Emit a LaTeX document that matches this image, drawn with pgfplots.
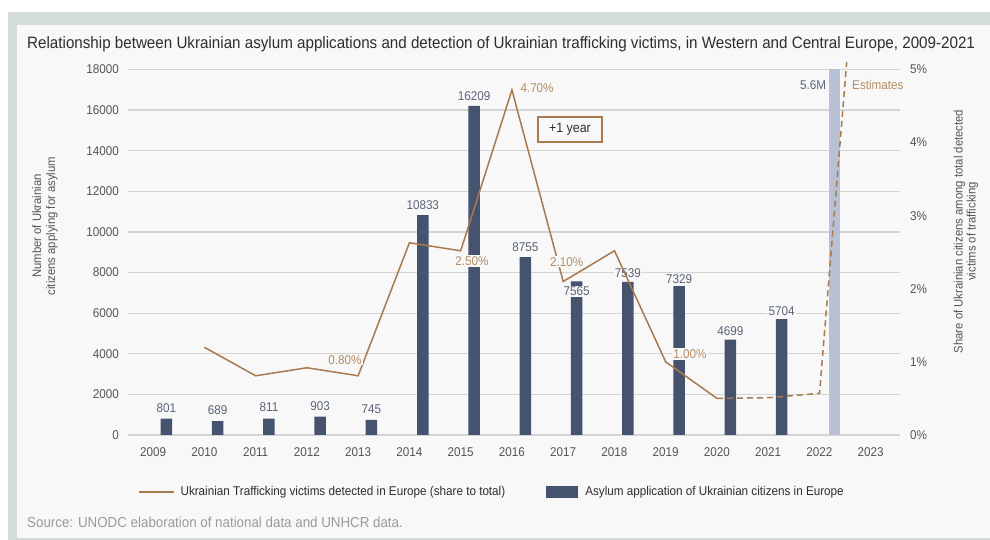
\documentclass[border=0pt]{standalone}
\usepackage{fontspec}
\setmainfont{Liberation Sans}[FakeStretch=0.92]
\usepackage{pgfplots}
\pgfplotsset{compat=1.18}
\definecolor{framegray}{HTML}{D3DCD8}
\definecolor{panel}{HTML}{F8F8F8}
\definecolor{gridgray}{HTML}{D4D4D4}
\definecolor{barblue}{HTML}{45536E}
\definecolor{lightbar}{HTML}{B8C0D4}
\definecolor{linebrown}{HTML}{A77A50}
\definecolor{pcttext}{HTML}{B48C64}
\definecolor{labelblue}{HTML}{5A6478}
\definecolor{ticktext}{HTML}{555555}
\definecolor{titletext}{HTML}{2E2E2E}
\definecolor{sourcegray}{HTML}{9A9A9A}
\newcommand{\tickfont}{\fontsize{12.7}{15}\selectfont}
\begin{document}
\begin{tikzpicture}[x=1pt,y=1pt]
\fill[white] (0,0) rectangle (990,540);
\fill[framegray] (8,0) rectangle (990,528);
\fill[panel] (17,1.5) rectangle (990,515);
\node[anchor=base west, text=titletext, inner sep=0pt] at (27,491) {\fontsize{16.5}{19}\selectfont Relationship between Ukrainian asylum applications and detection of Ukrainian trafficking victims, in Western and Central Europe, 2009-2021};

\begin{axis}[at={(128pt,105pt)}, anchor=south west, scale only axis,
  width=772pt, height=365.5pt,
  xmin=2008.51, xmax=2023.57, ymin=0, ymax=18000,
  axis line style={draw=none}, major tick style={draw=none},
  ymajorgrids, grid style={draw=gridgray, line width=1.3pt},
  xtick={2009,...,2023}, ytick={0,2000,...,18000},
  scaled y ticks=false,
  /pgf/number format/1000 sep={}, /pgf/number format/assume math mode=true,
  tick label style={font=\tickfont, text=ticktext},
  xticklabel style={anchor=base, yshift=-21.5pt, inner sep=0pt},
  yticklabel style={anchor=east, xshift=-9pt, inner sep=0pt},
  clip=false,
  legend style={at={(axis description cs:0.0135,-0.156)}, anchor=west, draw=none, fill=none,
    font=\tickfont, text=titletext, legend columns=2, inner sep=0pt,
    /tikz/every even column/.append style={column sep=39pt}},
  legend cell align=left,
]
\addlegendimage{legend image code/.code={\draw[linebrown, line width=1.5pt] (0pt,0pt) -- (35pt,0pt); \path (39pt,0pt);}}
\addlegendentry{Ukrainian Trafficking victims detected in Europe (share to total)}
\addplot[ybar, bar width=11.5pt, fill=barblue, draw=none,
  legend image code/.code={\fill[barblue] (0pt,-6pt) rectangle (32pt,6pt); \path (37pt,0pt);}]
  coordinates {(2009.26,801) (2010.26,689) (2011.26,811) (2012.26,903) (2013.26,745)
  (2014.26,10833) (2015.26,16209) (2016.26,8755) (2017.26,7565) (2018.26,7539)
  (2019.26,7329) (2020.26,4699) (2021.26,5704)};
\addlegendentry{Asylum application of Ukrainian citizens in Europe}
\addplot[ybar, bar width=11.5pt, fill=lightbar, draw=none, forget plot]
  coordinates {(2022.29,18000)};
\begin{scope}[every node/.style={font=\tickfont, text=labelblue, fill=panel, inner sep=1.2pt}]
\node[yshift=11pt] at (axis cs:2009.26,801) {801};
\node[yshift=11pt] at (axis cs:2010.26,689) {689};
\node[yshift=11pt] at (axis cs:2011.26,811) {811};
\node[yshift=11pt] at (axis cs:2012.26,903) {903};
\node[yshift=11pt] at (axis cs:2013.26,745) {745};
\node[yshift=10pt] at (axis cs:2014.26,10833) {10833};
\node[yshift=10pt] at (axis cs:2015.26,16209) {16209};
\node[yshift=10pt] at (axis cs:2016.26,8755) {8755};
\node[yshift=-10pt] at (axis cs:2017.26,7565) {7565};
\node[yshift=9pt] at (axis cs:2018.26,7539) {7539};
\node[yshift=7pt] at (axis cs:2019.26,7329) {7329};
\node[yshift=8pt] at (axis cs:2020.26,4699) {4699};
\node[yshift=8pt] at (axis cs:2021.26,5704) {5704};
\end{scope}
\end{axis}

\begin{axis}[at={(128pt,105pt)}, anchor=south west, scale only axis,
  width=772pt, height=365.5pt,
  xmin=2008.51, xmax=2023.57, ymin=0, ymax=5,
  axis line style={draw=none}, major tick style={draw=none},
  xtick=\empty, ytick={0,...,5}, yticklabel pos=right,
  /pgf/number format/assume math mode=true,
  yticklabel={\pgfmathprintnumber{\tick}\%},
  yticklabel style={anchor=west, xshift=10pt, inner sep=0pt, font=\tickfont, text=ticktext},
  clip=false]
\addplot[linebrown, line width=1.5pt] coordinates {(2010,1.20) (2011,0.81) (2012,0.92) (2013,0.81)
  (2014,2.63) (2015,2.52) (2016,4.72) (2017,2.10) (2018,2.52) (2019,1.00) (2020,0.50)};
\addplot[linebrown, line width=1.5pt, dash pattern=on 6pt off 4pt] coordinates {(2020,0.50) (2021,0.51) (2022,0.57) (2022.53,5.10)};
\begin{scope}[every node/.style={font=\tickfont, text=pcttext, fill=panel, inner sep=1.2pt}]
\node at (axis cs:2012.74,1.03) {0.80\%};
\node at (axis cs:2015.22,2.38) {2.50\%};
\node at (axis cs:2016.49,4.75) {4.70\%};
\node at (axis cs:2017.07,2.37) {2.10\%};
\node at (axis cs:2019.47,1.11) {1.00\%};
\end{scope}
\end{axis}

\node[font=\tickfont, text=labelblue] at (813,455) {5.6M};
\node[font=\tickfont, text=pcttext, anchor=west, inner sep=0pt] at (852,455) {Estimates};
\draw[linebrown, line width=1.5pt, fill=panel] (538,398) rectangle (602,423);
\node[font=\fontsize{13.5}{16}\selectfont, text=titletext] at (570,410.5) {+1 year};
\node[rotate=90, align=center, text=ticktext, font=\fontsize{12.3}{14}\selectfont] at (45,314) {Number of Ukrainian\\citizens applying for asylum};
\node[rotate=90, align=center, text=ticktext, font=\fontsize{12.3}{13}\selectfont] at (966,308.5) {Share of Ukrainian citizens among total detected\\victims of trafficking};
\node[anchor=base west, text=sourcegray, inner sep=0pt, font=\fontsize{14.5}{16}\selectfont] at (27,12) {Source: UNODC elaboration of national data and UNHCR data.};
\end{tikzpicture}
\end{document}
